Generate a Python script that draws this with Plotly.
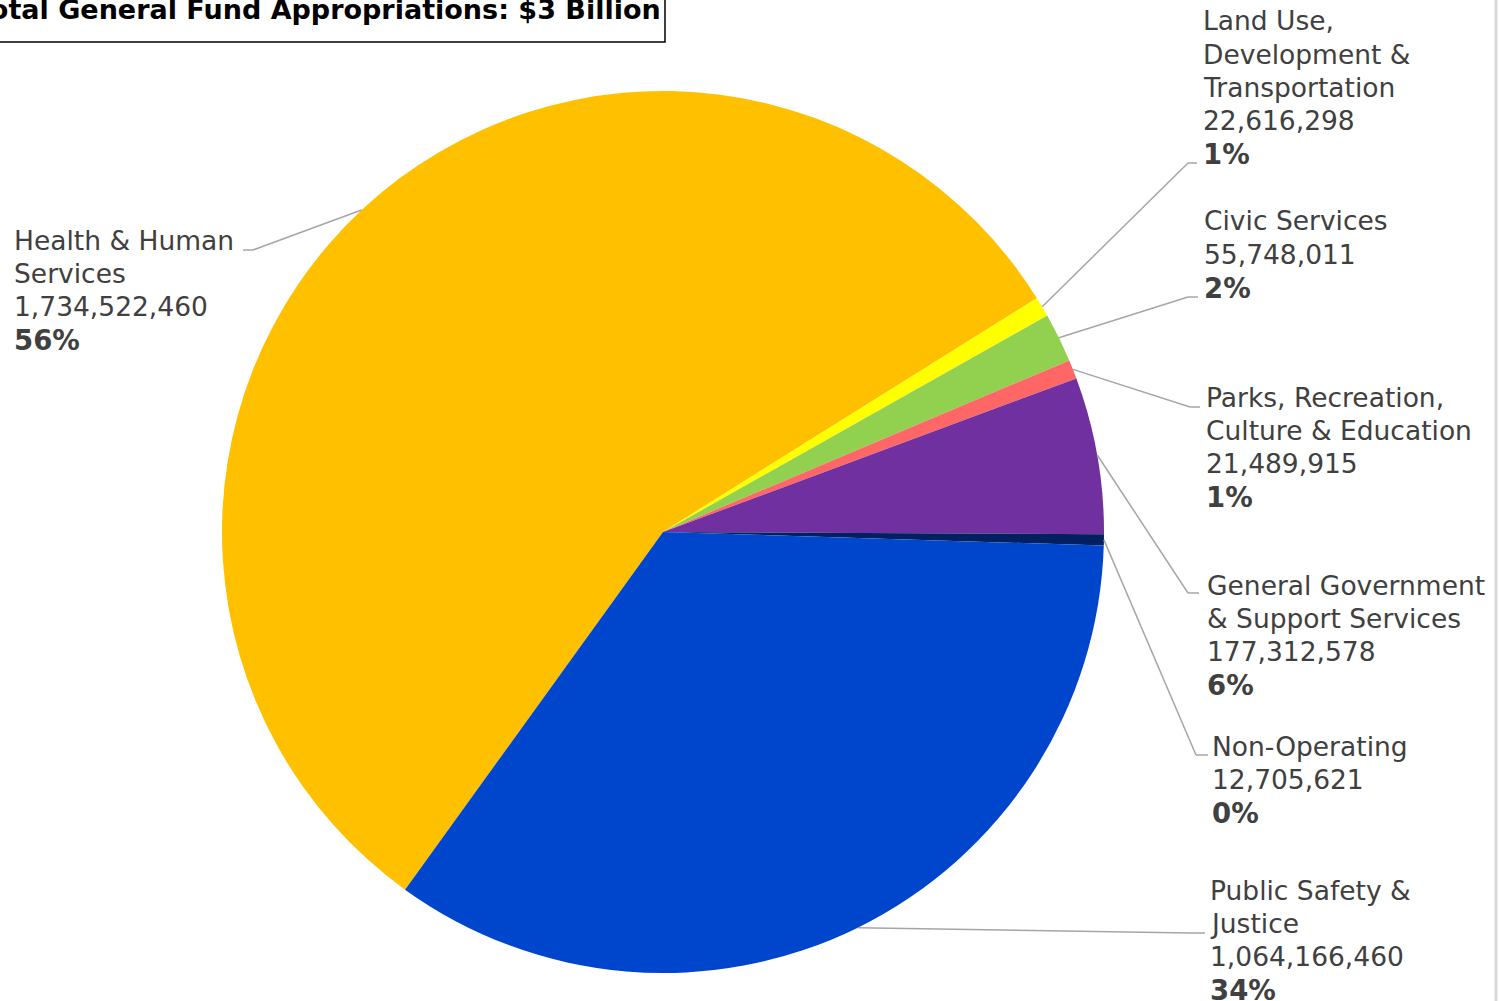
import math
import plotly.graph_objects as go

W, H = 1503, 1001

# Budget data
labels = [
    "Health & Human Services",
    "Land Use, Development & Transportation",
    "Civic Services",
    "Parks, Recreation, Culture & Education",
    "General Government & Support Services",
    "Non-Operating",
    "Public Safety & Justice",
]
values = [1734522460, 22616298, 55748011, 21489915, 177312578, 12705621, 1064166460]
colors = ["#FFC000", "#FFFF00", "#92D050", "#FF6666", "#7030A0", "#002060", "#0046CC"]
label_lines = [
    ["Health & Human", "Services"],
    ["Land Use,", "Development &", "Transportation"],
    ["Civic Services"],
    ["Parks, Recreation,", "Culture & Education"],
    ["General Government", "& Support Services"],
    ["Non-Operating"],
    ["Public Safety &", "Justice"],
]
title_text = "Total General Fund Appropriations: $3 Billion"

# Layout of the pie (pixels)
CX, CY, R = 663, 532, 441
ROTATION = 215.8

# Label block placement: (left x, first line centre y, elbow x, elbow y, end x)
label_pos = [
    (13, 240, 253, 250, 243),
    (1202, 21, 1188, 163, 1197),
    (1203, 221, 1188, 297, 1198),
    (1205, 397, 1190, 407, 1200),
    (1206, 585, 1188, 593, 1199),
    (1211, 746, 1196, 755, 1208),
    (1209, 890, 1190, 933, 1205),
]
LINE_STEP = 33.3
FONT = "Verdana, DejaVu Sans, sans-serif"
TEXT_COLOR = "#404040"
FONT_SIZE = 26.5
PCT_FONT_SIZE = 27.5


def px(x):
    return x / W


def py(y):
    return 1 - y / H


fig = go.Figure(
    go.Pie(
        labels=labels,
        values=values,
        marker=dict(colors=colors, line=dict(width=0)),
        sort=False,
        direction="clockwise",
        rotation=ROTATION,
        textinfo="none",
        showlegend=False,
        domain=dict(x=[px(CX - R), px(CX + R)], y=[py(CY + R), py(CY - R)]),
    )
)

total = sum(values)
annotations = []
shapes = []

cum = 0.0
for i, v in enumerate(values):
    mid = ROTATION + (cum + v / 2) / total * 360
    cum += v
    a = math.radians(mid)
    sx = CX + R * math.sin(a)
    sy = CY - R * math.cos(a)
    lx, ly, ex, ey, endx = label_pos[i]

    # leader line: slice edge -> elbow -> short horizontal stub
    shapes.append(dict(type="line", xref="paper", yref="paper",
                       x0=px(sx), y0=py(sy), x1=px(ex), y1=py(ey),
                       line=dict(color="#A6A6A6", width=1.5)))
    shapes.append(dict(type="line", xref="paper", yref="paper",
                       x0=px(ex), y0=py(ey), x1=px(endx), y1=py(ey),
                       line=dict(color="#A6A6A6", width=1.5)))

    pct = round(v / total * 100)
    lines = label_lines[i] + [f"{v:,}"]
    for k, t in enumerate(lines):
        annotations.append(dict(
            text=t, xref="paper", yref="paper",
            x=px(lx), y=py(ly + k * LINE_STEP),
            xanchor="left", yanchor="middle", showarrow=False,
            borderpad=0,
            font=dict(family=FONT, size=FONT_SIZE, color=TEXT_COLOR),
        ))
    annotations.append(dict(
        text=f"<b>{pct}%</b>", xref="paper", yref="paper",
        x=px(lx), y=py(ly + len(lines) * LINE_STEP),
        xanchor="left", yanchor="middle", showarrow=False,
        borderpad=0,
        font=dict(family=FONT, size=PCT_FONT_SIZE, color=TEXT_COLOR),
    ))

# title box
shapes.append(dict(type="rect", xref="paper", yref="paper",
                   x0=px(-20), y0=py(42), x1=px(665), y1=py(-20),
                   line=dict(color="#000000", width=1.5), fillcolor="rgba(0,0,0,0)"))
annotations.append(dict(
    text=f"<b>{title_text}</b>", xref="paper", yref="paper",
    x=px(662), y=py(9), xanchor="right", yanchor="middle", showarrow=False,
    borderpad=0,
    font=dict(family=FONT, size=27, color="#000000"),
))

# right edge rule
shapes.append(dict(type="line", xref="paper", yref="paper",
                   x0=px(1496), y0=0, x1=px(1496), y1=1,
                   line=dict(color="#D9D9D9", width=3)))

fig.update_layout(
    width=W, height=H,
    margin=dict(l=0, r=0, t=0, b=0),
    paper_bgcolor="white",
    plot_bgcolor="white",
    annotations=annotations,
    shapes=shapes,
)

fig.write_html("out.html")
